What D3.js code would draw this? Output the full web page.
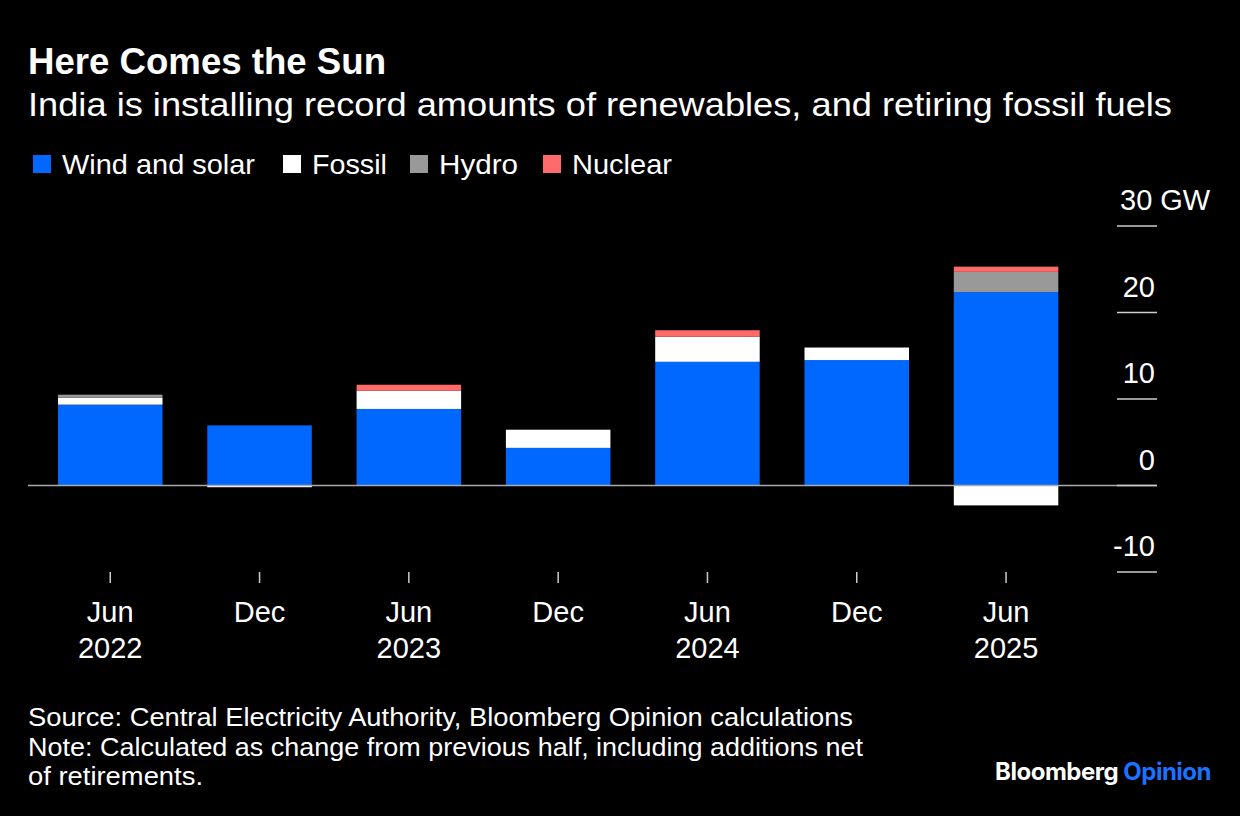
<!DOCTYPE html>
<html>
<head>
<meta charset="utf-8">
<script src="https://cdn.jsdelivr.net/npm/d3@7"></script>
<style>
  body { margin: 0; background: #000; }
  svg text { font-family: "Liberation Sans", Arial, sans-serif; fill: #fff; }
</style>
</head>
<body>
<div id="chart"></div>
<script>
// Half-year periods
const periods = ["Jun 2022", "Dec 2022", "Jun 2023", "Dec 2023", "Jun 2024", "Dec 2024", "Jun 2025"];
const monthLabels = ["Jun", "Dec", "Jun", "Dec", "Jun", "Dec", "Jun"];
const yearLabels = ["2022", "", "2023", "", "2024", "", "2025"];

// Net capacity change, GW
const windSolar = [9.35, 6.95, 8.85, 4.35, 14.3, 14.5, 22.35];
const fossil = [0.8, -0.2, 2.1, 2.1, 2.9, 1.45, -2.3];
const hydro = [0.35, 0, 0, 0, 0, 0, 2.35];
const nuclear = [0, 0, 0.7, 0, 0.75, 0, 0.6];

const seriesNames = ["Wind and solar", "Fossil", "Hydro", "Nuclear"];
const seriesColors = ["#0068ff", "#ffffff", "#999999", "#ff6b6b"];
const yTicks = [-10, 0, 10, 20, 30];

const W = 1240, H = 816;

const svg = d3
  .select("#chart")
  .append("svg")
  .attr("width", W)
  .attr("height", H);

svg.append("rect").attr("width", W).attr("height", H).attr("fill", "#000");

// Titles
svg.append("text").attr("x", 28).attr("y", 74)
  .attr("font-size", 36).attr("font-weight", "bold")
  .attr("textLength", 358).attr("lengthAdjust", "spacingAndGlyphs")
  .text("Here Comes the Sun");
svg.append("text").attr("x", 28).attr("y", 116)
  .attr("font-size", 34)
  .attr("textLength", 1144).attr("lengthAdjust", "spacingAndGlyphs")
  .text("India is installing record amounts of renewables, and retiring fossil fuels");

// Legend (square x, text width)
const legendX = [33, 283, 410, 543];
const legendW = [193, 75, 79, 100];
seriesNames.forEach((name, i) => {
  const g = svg.append("g").attr("transform", `translate(${legendX[i]},155)`);
  g.append("rect").attr("width", 18).attr("height", 18).attr("fill", seriesColors[i]);
  g.append("text").attr("x", 29).attr("y", 19).attr("font-size", 28)
    .attr("textLength", legendW[i]).attr("lengthAdjust", "spacingAndGlyphs")
    .text(name);
});

// Data table for stacking
const table = periods.map((p, i) => ({
  period: p,
  "Wind and solar": windSolar[i],
  Fossil: fossil[i],
  Hydro: hydro[i],
  Nuclear: nuclear[i],
}));

const stack = d3.stack().keys(seriesNames).offset(d3.stackOffsetDiverging);
const stacked = stack(table);

const x = d3.scaleBand()
  .domain(periods)
  .range([35.6, 1080.7])
  .paddingInner(0.3)
  .paddingOuter(0.15);

const y = d3.scaleLinear().domain([-10, 30]).range([572, 226]);

// Bars
svg.append("g")
  .selectAll("g")
  .data(stacked)
  .join("g")
  .attr("fill", (d, i) => seriesColors[i])
  .selectAll("rect")
  .data((d) => d)
  .join("rect")
  .attr("x", (d) => x(d.data.period))
  .attr("width", x.bandwidth())
  .attr("y", (d) => y(Math.max(d[0], d[1])))
  .attr("height", (d) => Math.abs(y(d[0]) - y(d[1])));

// Zero line
svg.append("line")
  .attr("x1", 28).attr("x2", 1157)
  .attr("y1", y(0)).attr("y2", y(0))
  .attr("stroke", "#aaaaaa").attr("stroke-width", 1.5);

// Y axis on the right
const yAxis = svg.append("g");
yAxis.selectAll("line")
  .data(yTicks)
  .join("line")
  .attr("x1", 1117).attr("x2", 1157)
  .attr("y1", (d) => y(d)).attr("y2", (d) => y(d))
  .attr("stroke", "#cccccc").attr("stroke-width", 1.5);
yAxis.selectAll("text")
  .data(yTicks)
  .join("text")
  .attr("x", 1155)
  .attr("y", (d) => y(d) - 16)
  .attr("font-size", 29)
  .attr("text-anchor", "end")
  .text((d) => d);
// unit after top label
yAxis.selectAll("text").filter((d) => d === 30)
  .attr("text-anchor", "start").attr("x", 1120).text("30 GW");

// X axis
const xAxis = svg.append("g");
xAxis.selectAll("line")
  .data(periods)
  .join("line")
  .attr("x1", (d) => x(d) + x.bandwidth() / 2)
  .attr("x2", (d) => x(d) + x.bandwidth() / 2)
  .attr("y1", 572).attr("y2", 583)
  .attr("stroke", "#cccccc").attr("stroke-width", 1.5);
xAxis.selectAll("text.m")
  .data(periods)
  .join("text")
  .attr("class", "m")
  .attr("x", (d) => x(d) + x.bandwidth() / 2)
  .attr("y", 622)
  .attr("font-size", 29)
  .attr("text-anchor", "middle")
  .text((d, i) => monthLabels[i]);
xAxis.selectAll("text.yr")
  .data(periods)
  .join("text")
  .attr("class", "yr")
  .attr("x", (d) => x(d) + x.bandwidth() / 2)
  .attr("y", 658)
  .attr("font-size", 29)
  .attr("text-anchor", "middle")
  .text((d, i) => yearLabels[i]);

// Footer
const notes = [
  "Source: Central Electricity Authority, Bloomberg Opinion calculations",
  "Note: Calculated as change from previous half, including additions net",
  "of retirements.",
];
const noteW = [825, 835, 175];
notes.forEach((n, i) => {
  svg.append("text").attr("x", 28).attr("y", 726 + i * 29.5)
    .attr("font-size", 26)
    .attr("textLength", noteW[i]).attr("lengthAdjust", "spacingAndGlyphs")
    .text(n);
});

const brand = svg.append("text").attr("x", 1211).attr("y", 780)
  .attr("text-anchor", "end").attr("font-size", 24).attr("font-weight", "bold")
  .style("font-family", "Inter, 'Noto Sans', sans-serif")
  .attr("letter-spacing", -0.5);
brand.append("tspan").text("Bloomberg ");
brand.append("tspan").style("fill", "#1a73ff").text("Opinion");
</script>
</body>
</html>
